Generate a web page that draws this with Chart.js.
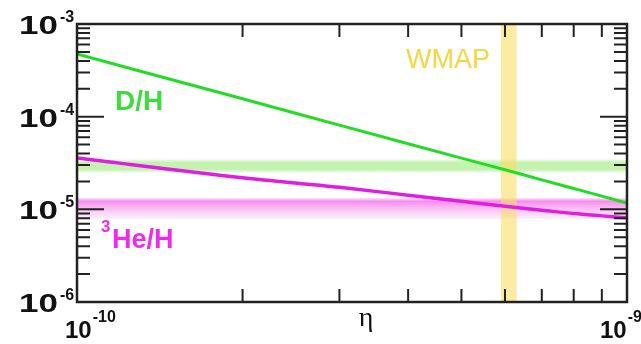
<!DOCTYPE html>
<html>
<head>
<meta charset="utf-8">
<script src="https://cdn.jsdelivr.net/npm/chart.js@4"></script>
<style>
  html, body { margin: 0; padding: 0; background: #fff; }
  #wrap { width: 641px; height: 344px; }
</style>
</head>
<body>
<div id="wrap"><canvas id="bbn" width="641" height="344"></canvas></div>
<script>
// eta values (baryon-to-photon ratio)
const etaValues = [1e-10, 2e-10, 3e-10, 4e-10, 5e-10, 6e-10, 7e-10, 8e-10, 9e-10, 1e-9];
// abundances
const dhValues = [4.74e-4, 1.56e-4, 8.1e-5, 5.1e-5, 3.57e-5, 2.67e-5, 2.08e-5, 1.68e-5, 1.39e-5, 1.17e-5];
const he3Values = [3.58e-5, 2.19e-5, 1.73e-5, 1.42e-5, 1.22e-5, 1.08e-5, 9.8e-6, 9.0e-6, 8.5e-6, 8.1e-6];

// observed bands
const dhBand = [2.5e-5, 3.45e-5];
const he3Band = [7.9e-6, 1.32e-5];
const wmapBand = [5.9e-10, 6.3e-10];

// axis ticks
const xMajor = [1e-10, 1e-9];
const xMinor = [2e-10, 3e-10, 4e-10, 5e-10, 6e-10, 7e-10, 8e-10, 9e-10];
const yMajor = [1e-6, 1e-5, 1e-4, 1e-3];
const yMinorMult = [2, 3, 4, 5, 6, 7, 8, 9];
const xTickLabels = [['10', '-10'], ['10', '-9']];
const yTickLabels = [['10', '-6'], ['10', '-5'], ['10', '-4'], ['10', '-3']];

const sans = '"Liberation Sans", Arial, sans-serif';

const bandsPlugin = {
  id: 'bands',
  beforeDatasetsDraw(chart) {
    const { ctx, chartArea: a, scales: { x, y } } = chart;
    ctx.save();
    // D/H band, soft edges
    let t = y.getPixelForValue(dhBand[1]), b = y.getPixelForValue(dhBand[0]);
    let g = ctx.createLinearGradient(0, t, 0, b);
    g.addColorStop(0, 'rgba(190, 242, 165, 0.3)');
    g.addColorStop(0.25, 'rgba(180, 240, 155, 0.8)');
    g.addColorStop(0.75, 'rgba(180, 240, 155, 0.8)');
    g.addColorStop(1, 'rgba(190, 242, 165, 0.3)');
    ctx.fillStyle = g;
    ctx.fillRect(a.left, t, a.right - a.left, b - t);
    // 3He/H band, strong near the top and fading downwards
    t = y.getPixelForValue(he3Band[1]); b = y.getPixelForValue(he3Band[0]);
    g = ctx.createLinearGradient(0, t, 0, b);
    g.addColorStop(0, 'rgba(248, 150, 240, 0.35)');
    g.addColorStop(0.15, 'rgba(245, 120, 235, 0.85)');
    g.addColorStop(0.5, 'rgba(247, 160, 240, 0.7)');
    g.addColorStop(1, 'rgba(250, 205, 246, 0.35)');
    ctx.fillStyle = g;
    ctx.fillRect(a.left, t, a.right - a.left, b - t);
    // WMAP band
    const l = x.getPixelForValue(wmapBand[0]), r = x.getPixelForValue(wmapBand[1]);
    ctx.fillStyle = 'rgba(250, 222, 100, 0.6)';
    ctx.fillRect(l, a.top, r - l, a.bottom - a.top);
    ctx.restore();
  }
};

const framePlugin = {
  id: 'frame',
  afterDatasetsDraw(chart) {
    const { ctx, chartArea: a, scales: { x, y } } = chart;
    ctx.save();
    ctx.strokeStyle = '#222';
    ctx.lineWidth = 2.5;
    ctx.strokeRect(a.left, a.top, a.right - a.left, a.bottom - a.top);

    ctx.lineWidth = 2;
    ctx.beginPath();
    // x ticks, pointing inwards, top and bottom
    xMinor.forEach(v => {
      const px = x.getPixelForValue(v);
      ctx.moveTo(px, a.bottom); ctx.lineTo(px, a.bottom - 13);
      ctx.moveTo(px, a.top); ctx.lineTo(px, a.top + 13);
    });
    // y ticks, left and right
    yMajor.forEach((v, i) => {
      const py = y.getPixelForValue(v);
      ctx.moveTo(a.left, py); ctx.lineTo(a.left + 27, py);
      ctx.moveTo(a.right, py); ctx.lineTo(a.right - 27, py);
      if (i < yMajor.length - 1) {
        yMinorMult.forEach(m => {
          const pm = y.getPixelForValue(v * m);
          ctx.moveTo(a.left, pm); ctx.lineTo(a.left + 13, pm);
          ctx.moveTo(a.right, pm); ctx.lineTo(a.right - 13, pm);
        });
      }
    });
    ctx.stroke();

    // tick labels with superscript exponents
    ctx.fillStyle = '#111';
    ctx.textBaseline = 'alphabetic';
    yMajor.forEach((v, i) => {
      const py = y.getPixelForValue(v);
      ctx.save();
      ctx.translate(58, py + 10);
      ctx.scale(1.4, 1);
      ctx.font = 'bold 25px ' + sans;
      ctx.textAlign = 'right';
      ctx.fillText(yTickLabels[i][0], 0, 0);
      ctx.restore();
      ctx.font = 'bold 16px ' + sans;
      ctx.textAlign = 'left';
      ctx.fillText(yTickLabels[i][1], 60, py - 2);
    });
    const xOff = [-12, -27];
    xMajor.forEach((v, i) => {
      const px = x.getPixelForValue(v) + xOff[i];
      ctx.font = 'bold 24px ' + sans;
      ctx.textAlign = 'left';
      ctx.fillText(xTickLabels[i][0], px, 338);
      const w = ctx.measureText(xTickLabels[i][0]).width;
      ctx.font = 'bold 16px ' + sans;
      ctx.fillText(xTickLabels[i][1], px + w + 1, 322);
    });

    // axis title
    ctx.font = '28px "Liberation Serif", "DejaVu Serif", serif';
    ctx.textAlign = 'center';
    ctx.fillText('\u03b7', 366, 326);

    // curve and band labels
    ctx.textAlign = 'left';
    ctx.fillStyle = '#3ddd3d';
    ctx.font = 'bold 28px ' + sans;
    ctx.fillText('D/H', 115, 110);
    ctx.fillStyle = '#ee2aee';
    ctx.font = 'bold 17px ' + sans;
    ctx.fillText('3', 101, 232);
    ctx.font = 'bold 27px ' + sans;
    ctx.fillText('He/H', 112, 248);
    ctx.fillStyle = '#f6d63f';
    ctx.font = '27px ' + sans;
    ctx.fillText('WMAP', 406, 68);
    ctx.restore();
  }
};

new Chart(document.getElementById('bbn'), {
  type: 'line',
  data: {
    datasets: [{
      label: 'D/H',
      data: etaValues.map((e, i) => ({ x: e, y: dhValues[i] })),
      borderColor: '#22dd22',
      borderWidth: 3,
      pointRadius: 0,
      cubicInterpolationMode: 'monotone',
      fill: false
    }, {
      label: '3He/H',
      data: etaValues.map((e, i) => ({ x: e, y: he3Values[i] })),
      borderColor: '#e01ee0',
      borderWidth: 3.5,
      pointRadius: 0,
      cubicInterpolationMode: 'monotone',
      fill: false
    }]
  },
  options: {
    responsive: false,
    animation: false,
    layout: { padding: { left: 77, right: 14, top: 24, bottom: 42 } },
    plugins: { legend: { display: false }, tooltip: { enabled: false } },
    scales: {
      x: { type: 'logarithmic', min: 1e-10, max: 1e-9, display: false },
      y: { type: 'logarithmic', min: 1e-6, max: 1e-3, display: false }
    }
  },
  plugins: [bandsPlugin, framePlugin]
});
</script>
</body>
</html>
